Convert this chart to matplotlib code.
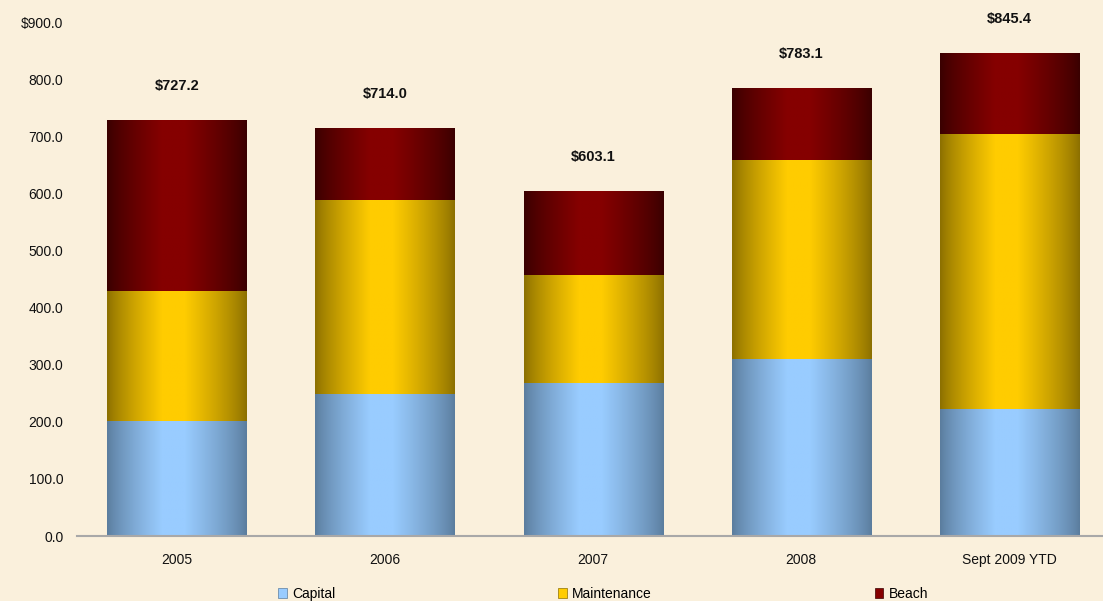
import numpy as np
import matplotlib
matplotlib.use("Agg")
import matplotlib.pyplot as plt
from matplotlib.colors import LinearSegmentedColormap
from matplotlib.patches import Patch

categories = ["2005", "2006", "2007", "2008", "Sept 2009 YTD"]
capital = [201.0, 249.0, 268.0, 310.0, 222.0]
maintenance = [228.0, 339.0, 189.0, 348.0, 482.0]
beach = [298.2, 126.0, 146.1, 125.1, 141.4]
totals = [727.2, 714.0, 603.1, 783.1, 845.4]
series_names = ["Capital", "Maintenance", "Beach"]

yticks = [0, 100, 200, 300, 400, 500, 600, 700, 800, 900]
ytick_labels = ["0.0", "100.0", "200.0", "300.0", "400.0", "500.0",
                "600.0", "700.0", "800.0", "$900.0"]

bg = "#FAF0DC"
styles = {
    "Capital": ("#5B7D9E", "#99CCFF", "#93C4F5"),
    "Maintenance": ("#8C7000", "#FFCC00", "#E6B800"),
    "Beach": ("#3A0000", "#850000", "#800000"),
}

plt.rcParams["font.family"] = ["Liberation Sans", "DejaVu Sans"]
fig = plt.figure(figsize=(11.03, 6.01), dpi=100, facecolor=bg)
ax = fig.add_axes([0.07, 0.108, 0.93, 0.855])
ax.set_facecolor(bg)

x = np.arange(len(categories))
width = 0.67
bottoms = np.zeros(len(categories))
prof = np.concatenate([np.linspace(0, 1, 40) ** 0.8, np.ones(15), np.linspace(1, 0, 45) ** 0.8])
grad = prof[np.newaxis, :]

for name, vals in zip(series_names, [capital, maintenance, beach]):
    dark, light, solid = styles[name]
    cmap = LinearSegmentedColormap.from_list(name, [dark, light])
    bars = ax.bar(x, vals, width, bottom=bottoms, color=solid, edgecolor="none", zorder=2)
    for b in bars:
        x0, y0 = b.get_x(), b.get_y()
        ax.imshow(grad, cmap=cmap, aspect="auto", zorder=3,
                  extent=(x0, x0 + b.get_width(), y0, y0 + b.get_height()),
                  interpolation="bilinear")
    bottoms += np.array(vals)

for xi, t in zip(x, totals):
    ax.annotate(f"${t:.1f}", (xi, t), xytext=(0, 20), textcoords="offset points",
                ha="center", va="bottom", fontsize=10.5, fontweight="bold", color="#111111")

ax.set_xlim(-0.48, 4.45)
ax.set_ylim(0, 900)
ax.set_yticks(yticks)
ax.set_yticklabels(ytick_labels, fontsize=10, color="#111111")
ax.set_xticks(x)
ax.set_xticklabels(categories, fontsize=10, color="#111111")
ax.tick_params(axis="y", length=0, pad=10)
ax.tick_params(axis="x", length=0, pad=12)
for s in ["top", "right", "left"]:
    ax.spines[s].set_visible(False)
ax.spines["bottom"].set_color("#A8A8A8")
ax.spines["bottom"].set_linewidth(1.5)
ax.spines["bottom"].set_zorder(4)

handles = [Patch(facecolor=styles[n][1], edgecolor=styles[n][0], linewidth=0.5) for n in series_names]
fig.legend(handles, series_names, loc="lower left", ncol=3, frameon=False,
           bbox_to_anchor=(0.241, -0.02, 0.612, 0.04), mode="expand",
           handlelength=0.6, handleheight=0.7, handletextpad=0.4, fontsize=10)

fig.savefig("out.png", dpi=100, facecolor=bg)
